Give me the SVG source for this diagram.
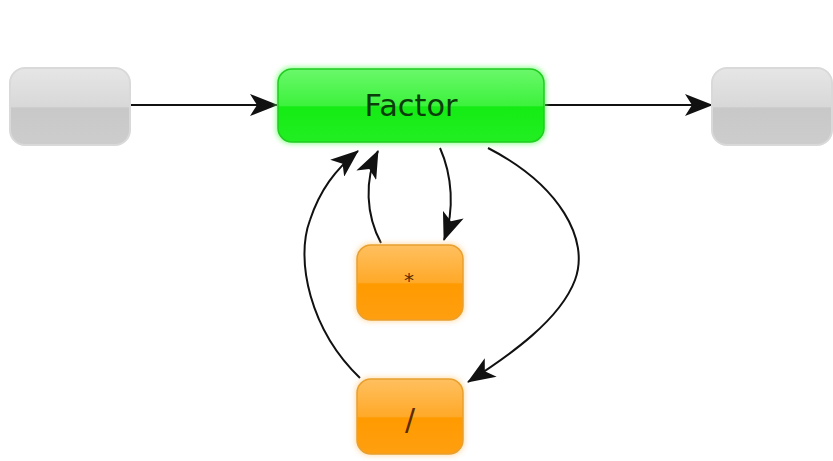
<svg xmlns="http://www.w3.org/2000/svg" width="833" height="461" viewBox="0 0 833 461">
  <defs>
    <linearGradient id="gGray" x1="0" y1="0" x2="0" y2="1">
      <stop offset="0" stop-color="#e6e6e6"/>
      <stop offset="0.5" stop-color="#d8d8d8"/>
      <stop offset="0.52" stop-color="#c8c8c8"/>
      <stop offset="1" stop-color="#cdcdcd"/>
    </linearGradient>
    <linearGradient id="gGreen" x1="0" y1="0" x2="0" y2="1">
      <stop offset="0" stop-color="#6af86a"/>
      <stop offset="0.5" stop-color="#3df23d"/>
      <stop offset="0.52" stop-color="#14ec14"/>
      <stop offset="1" stop-color="#22ee22"/>
    </linearGradient>
    <linearGradient id="gOrange" x1="0" y1="0" x2="0" y2="1">
      <stop offset="0" stop-color="#ffc060"/>
      <stop offset="0.5" stop-color="#ffa928"/>
      <stop offset="0.52" stop-color="#ff9a00"/>
      <stop offset="1" stop-color="#ff9f10"/>
    </linearGradient>
    <filter id="glow" x="-20%" y="-20%" width="140%" height="140%">
      <feGaussianBlur stdDeviation="2.5"/>
    </filter>
    <marker id="arrow" viewBox="0 0 28 22" refX="27" refY="11" markerWidth="28" markerHeight="22" markerUnits="userSpaceOnUse" orient="auto">
      <path d="M0,0 L28,11 L0,22 L7,11 Z" fill="#111"/>
    </marker>
  </defs>
  <style>
    .edge { fill: none; stroke: #111; stroke-width: 2; marker-end: url(#arrow); }
    .gray { fill: url(#gGray); stroke: #d9d9d9; stroke-width: 2; }
    .green { fill: url(#gGreen); stroke: #22cc22; stroke-width: 1.5; }
    .orange { fill: url(#gOrange); stroke: #e8a030; stroke-width: 1.5; }
    .label { font-family: "DejaVu Sans", sans-serif; text-anchor: middle; }
  </style>
  <rect width="833" height="461" fill="#ffffff"/>

  <g id="connectors">
    <path class="edge" d="M130,105 L277,105"/>
    <path class="edge" d="M545,105 L712,105"/>
    <path class="edge" d="M381,243 C366,215 364,180 378,151"/>
    <path class="edge" d="M440,148 C452,175 455,210 444,240"/>
    <path class="edge" d="M360,378 C310,330 295,260 310,220 C320,190 335,170 358,151"/>
    <path class="edge" d="M488,148 C560,185 590,240 575,280 C560,320 510,355 468,382"/>
  </g>

  <g id="node-start">
    <rect class="gray" x="10" y="68" width="120" height="77" rx="15"/>
  </g>

  <g id="node-factor">
    <rect x="276" y="67" width="270" height="77" rx="15" fill="#66ff66" opacity="0.7" filter="url(#glow)"/>
    <rect class="green" x="278" y="69" width="266" height="73" rx="14"/>
    <text class="label" x="411" y="116" font-size="31" textLength="93" lengthAdjust="spacingAndGlyphs" fill="#0b3d0b">Factor</text>
  </g>

  <g id="node-end">
    <rect class="gray" x="712" y="68" width="120" height="77" rx="15"/>
  </g>

  <g id="node-times">
    <rect x="355" y="243" width="110" height="79" rx="15" fill="#ffcc80" opacity="0.6" filter="url(#glow)"/>
    <rect class="orange" x="357" y="245" width="106" height="75" rx="14"/>
    <text class="label" x="409" y="287" font-size="20" fill="#5a2a00">*</text>
  </g>

  <g id="node-divide">
    <rect x="355" y="377" width="110" height="79" rx="15" fill="#ffcc80" opacity="0.6" filter="url(#glow)"/>
    <rect class="orange" x="357" y="379" width="106" height="75" rx="14"/>
    <text class="label" x="410" y="430" font-size="30" fill="#5a2a00">/</text>
  </g>
</svg>
